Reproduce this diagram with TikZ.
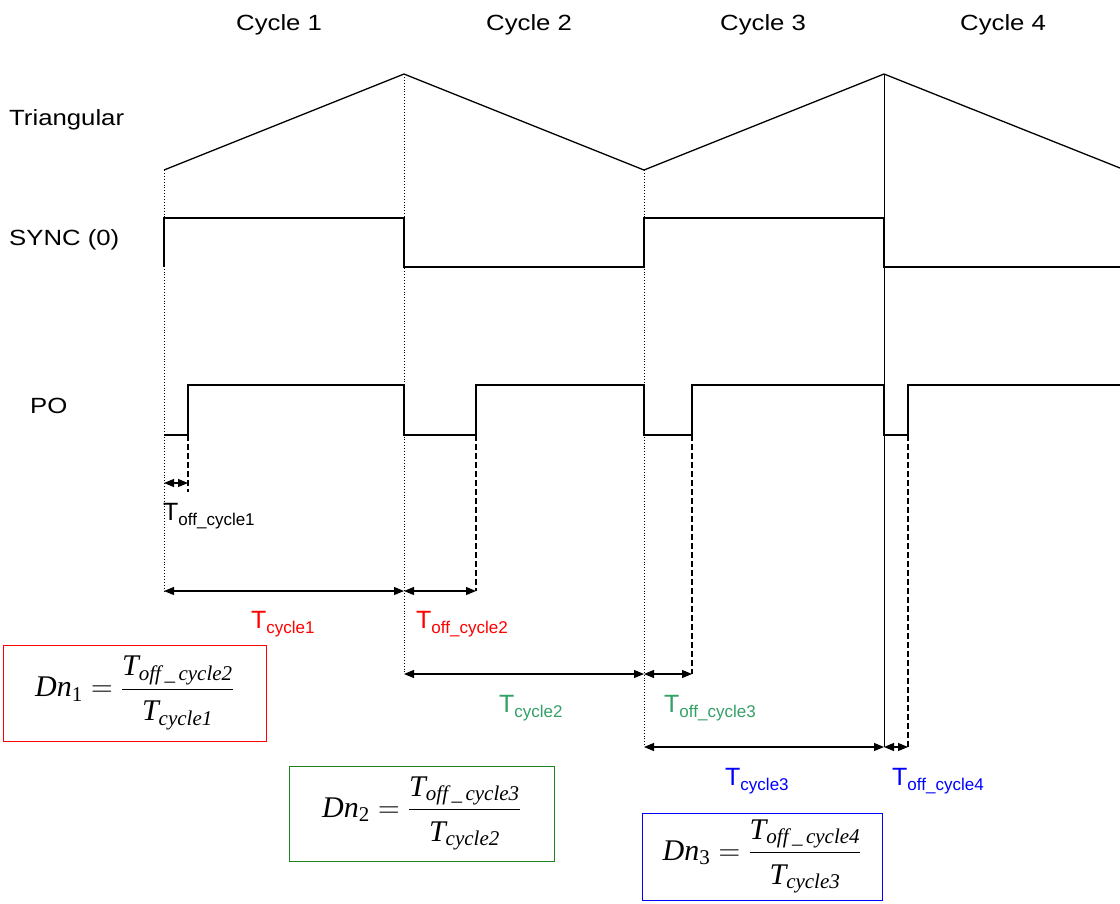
\documentclass[tikz,border=0pt]{standalone}
\usepackage{fix-cm}
\usepackage{amsmath}
\usepackage{fontspec}
\setmainfont{Liberation Sans}
\newfontfamily\wide{Liberation Sans}[FakeStretch=1.17]
\newfontfamily\tms{Liberation Serif}
\usetikzlibrary{arrows.meta}
\definecolor{tgreen}{RGB}{51,160,102}
\definecolor{bgreen}{RGB}{30,130,30}
\newcommand{\Tlab}[1]{T\raisebox{-0.22em}{\fontsize{17}{17}\selectfont #1}}
\newcommand{\Dfrac}[3]{{\tms\fontsize{30}{36}\selectfont$\displaystyle \textit{Dn}_{\text{#1}} = \frac{\textit{T}_{\textit{off\,\_\,cycle#2}}\rule[-10pt]{0pt}{1pt}}{\rule{0pt}{28pt}\textit{T}_{\textit{cycle#3}}}$}}
\begin{document}
\begin{tikzpicture}[x=1pt,y=-1pt,
  wave/.style={line width=1.3pt},
  guide/.style={line width=0.9pt,dotted},
  dashguide/.style={line width=1.3pt,dash pattern=on 6pt off 3pt},
  dim/.style={line width=1.1pt,{Triangle[length=10pt,width=8pt]}-{Triangle[length=10pt,width=8pt]}},
  lbl/.style={font=\wide\fontsize{22}{26}\selectfont,inner sep=0pt,anchor=base west},
  tl/.style={font=\fontsize{25}{28}\selectfont,inner sep=0pt,anchor=base west},
  fbox/.style={draw,line width=1pt,inner sep=0pt}]
\useasboundingbox (0,0) rectangle (1120,903);
% top labels
\node[lbl] (c1) at (236,30) {Cycle 1};
\node[lbl] (c2) at (486,30) {Cycle 2};
\node[lbl] (c3) at (720,30) {Cycle 3};
\node[lbl] (c4) at (960,30) {Cycle 4};
\node[lbl] (ltri) at (9,125) {Triangular};
\node[lbl] (lsync) at (9,245) {SYNC (0)};
\node[lbl] (lpo) at (30,413) {PO};
% triangular
\coordinate (t0) at (164,170);
\coordinate (t1) at (404,74);
\coordinate (t2) at (644,170);
\coordinate (t3) at (884,74);
\coordinate (t4) at (1120,168);
\draw[wave] (t0) -- (t1) -- (t2) -- (t3) -- (t4);
% sync
\coordinate (s0) at (164,267);
\coordinate (s1) at (164,218);
\coordinate (s2) at (404,218);
\coordinate (s3) at (404,267);
\coordinate (s4) at (644,267);
\coordinate (s5) at (644,218);
\coordinate (s6) at (884,218);
\coordinate (s7) at (884,267);
\coordinate (s8) at (1120,267);
\draw[wave] (s0) -- (s1) -- (s2) -- (s3) -- (s4) -- (s5) -- (s6) -- (s7) -- (s8);
% PO
\coordinate (p0) at (164,435);
\coordinate (p1) at (188,435);
\coordinate (p2) at (188,385);
\coordinate (p3) at (404,385);
\coordinate (p4) at (404,435);
\coordinate (p5) at (476,435);
\coordinate (p6) at (476,385);
\coordinate (p7) at (644,385);
\coordinate (p8) at (644,435);
\coordinate (p9) at (692,435);
\coordinate (p10) at (692,385);
\coordinate (p11) at (884,385);
\coordinate (p12) at (884,435);
\coordinate (p13) at (908,435);
\coordinate (p14) at (908,385);
\coordinate (p15) at (1120,385);
\draw[wave] (p0) -- (p1) -- (p2) -- (p3) -- (p4) -- (p5) -- (p6) -- (p7) -- (p8) -- (p9) -- (p10) -- (p11) -- (p12) -- (p13) -- (p14) -- (p15);
% guide ends
\coordinate (g1) at (164,591);
\coordinate (g2) at (404,674);
\coordinate (g3) at (644,747);
\coordinate (g4) at (884,747);
\draw[guide] (t0) -- (g1);
\draw[guide] (t1) -- (g2);
\draw[guide] (t2) -- (g3);
\draw[line width=0.9pt] (t3) -- (g4);
% dashed
\coordinate (e1) at (188,492);
\coordinate (e2) at (476,591);
\coordinate (e3) at (692,674);
\coordinate (e4) at (908,747);
\draw[dashguide] (p1) -- (e1);
\draw[dashguide] (p5) -- (e2);
\draw[dashguide] (p9) -- (e3);
\draw[dashguide] (p13) -- (e4);
% dimension arrows
\coordinate (m1a) at (164,483);
\coordinate (m1b) at (188,483);
\draw[dim] (m1a) -- (m1b);
\coordinate (m2a) at (164,591);
\coordinate (m2b) at (404,591);
\draw[dim] (m2a) -- (m2b);
\coordinate (m3b) at (476,591);
\draw[dim] (m2b) -- (m3b);
\coordinate (m4a) at (404,674);
\coordinate (m4b) at (644,674);
\draw[dim] (m4a) -- (m4b);
\coordinate (m5b) at (692,674);
\draw[dim] (m4b) -- (m5b);
\coordinate (m6a) at (644,747);
\coordinate (m6b) at (884,747);
\draw[dim] (m6a) -- (m6b);
\coordinate (m7b) at (908,747);
\draw[dim] (m6b) -- (m7b);
% T labels
\node[tl] (l1) at (163,520) {\Tlab{off\_cycle1}};
\node[tl,text=red] (l2) at (251,628) {\Tlab{cycle1}};
\node[tl,text=red] (l3) at (416,628) {\Tlab{off\_cycle2}};
\node[tl,text=tgreen] (l4) at (499,712) {\Tlab{cycle2}};
\node[tl,text=tgreen] (l5) at (664,712) {\Tlab{off\_cycle3}};
\node[tl,text=blue] (l6) at (725,785) {\Tlab{cycle3}};
\node[tl,text=blue] (l7) at (892,785) {\Tlab{off\_cycle4}};
% formula boxes
\node[fbox,draw=red,minimum width=263pt,minimum height=96pt] (f1) at (134.5,693) {};
\node[inner sep=0pt] (f1t) at (f1.center) {\Dfrac{1}{2}{1}};
\node[fbox,draw=bgreen,minimum width=265pt,minimum height=95pt] (f2) at (421.5,813.5) {};
\node[inner sep=0pt] (f2t) at (f2.center) {\Dfrac{2}{3}{2}};
\node[fbox,draw=blue,minimum width=240pt,minimum height=87pt] (f3) at (762,856.5) {};
\node[inner sep=0pt] (f3t) at (f3.center) {\Dfrac{3}{4}{3}};
\end{tikzpicture}
\end{document}
